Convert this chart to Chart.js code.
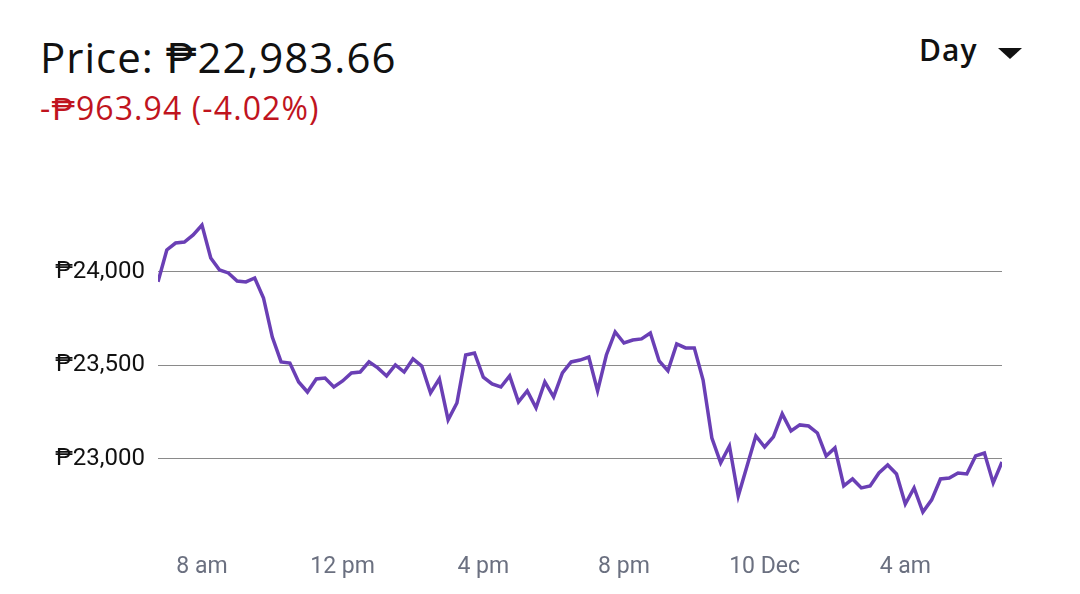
<!DOCTYPE html>
<html>
<head>
<meta charset="utf-8">
<script src="https://cdn.jsdelivr.net/npm/chart.js@4"></script>
<style>
  html, body { margin: 0; padding: 0; background: #fff; }
  body { width: 1080px; height: 594px; position: relative; overflow: hidden; font-family: "Open Sans", Roboto, sans-serif; }
  #title { position: absolute; left: 40px; top: 36px; font-size: 42px; letter-spacing: 1px; color: #111; line-height: 1; white-space: nowrap; }
  #change { position: absolute; left: 40px; top: 92px; font-size: 32px; letter-spacing: 1.1px; color: #c0141e; line-height: 1; white-space: nowrap; }
  #range { position: absolute; left: 919px; top: 35px; font-size: 30px; letter-spacing: 1px; font-weight: 600; color: #111; line-height: 1; }
  #tri { position: absolute; left: 998px; top: 48px; width: 0; height: 0; border-left: 12px solid transparent; border-right: 12px solid transparent; border-top: 11px solid #111; }
  canvas { position: absolute; left: 0; top: 0; }
</style>
</head>
<body>
<div id="title">Price: ₱22,983.66</div>
<div id="change">-₱963.94 (-4.02%)</div>
<div id="range">Day</div>
<div id="tri"></div>
<canvas id="c" width="1080" height="594"></canvas>
<script>
// 15-minute samples from 6:45 am (index 0) to 6:45 am next day (index 96)
const prices = [
  23948, 24118, 24155, 24160, 24198, 24251, 24075, 24011, 23995, 23952,
  23947, 23968, 23861, 23652, 23519, 23513, 23412, 23358, 23428, 23433,
  23385, 23417, 23460, 23465, 23519, 23487, 23444, 23503, 23465, 23535,
  23497, 23353, 23428, 23209, 23299, 23556, 23567, 23438, 23401, 23385,
  23444, 23305, 23364, 23273, 23412, 23332, 23460, 23519, 23529, 23545,
  23364, 23556, 23679, 23620, 23636, 23642, 23674, 23524, 23471, 23615,
  23594, 23594, 23422, 23112, 22979, 23069, 22802, 22962, 23123, 23064,
  23118, 23241, 23150, 23182, 23176, 23139, 23016, 23059, 22856, 22893,
  22845, 22856, 22925, 22968, 22920, 22759, 22845, 22716, 22781, 22893,
  22898, 22925, 22920, 23016, 23032, 22872, 22983.66
];
const xTickPositions = [5, 21, 37, 53, 69, 85];
const xTickLabels = ['8 am', '12 pm', '4 pm', '8 pm', '10 Dec', '4 am'];
const yTickValues = [23000, 23500, 24000];

const points = prices.map((v, i) => ({ x: i, y: v }));

new Chart(document.getElementById('c'), {
  type: 'line',
  data: {
    datasets: [{
      data: points,
      borderColor: '#6a3fb5',
      borderWidth: 3.5,
      pointRadius: 0,
      tension: 0,
      fill: false
    }]
  },
  options: {
    responsive: false,
    animation: false,
    devicePixelRatio: 1,
    layout: { padding: { left: 0, right: 78, top: 200, bottom: 0 } },
    plugins: { legend: { display: false }, tooltip: { enabled: false } },
    scales: {
      x: {
        type: 'linear',
        min: 0,
        max: prices.length - 1,
        grid: { display: false, drawTicks: false },
        border: { display: false },
        afterBuildTicks: (axis) => { axis.ticks = xTickPositions.map(v => ({ value: v })); },
        afterFit: (axis) => { axis.height = 64; },
        ticks: {
          autoSkip: false,
          maxRotation: 0,
          padding: 23,
          color: '#6b7080',
          font: { family: 'Roboto', size: 23 },
          callback: (v) => { const k = xTickPositions.indexOf(v); return k >= 0 ? xTickLabels[k] : ''; }
        }
      },
      y: {
        type: 'linear',
        min: 22620,
        max: 24385,
        grid: { color: '#8a8a8a', lineWidth: 1, drawTicks: false },
        border: { display: false },
        afterBuildTicks: (axis) => { axis.ticks = yTickValues.map(v => ({ value: v })); },
        afterFit: (axis) => { axis.width = 158; },
        ticks: {
          padding: 13,
          color: '#111',
          font: { family: 'Roboto', size: 24 },
          callback: (v) => '₱' + v.toLocaleString('en-US')
        }
      }
    }
  }
});
</script>
</body>
</html>
